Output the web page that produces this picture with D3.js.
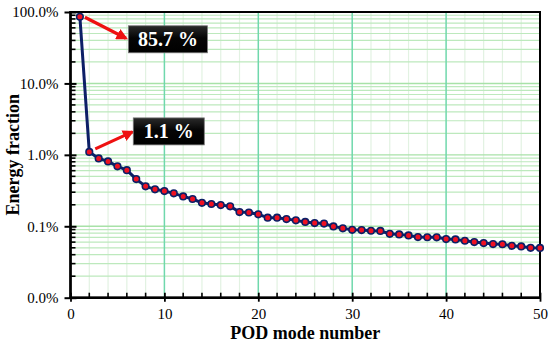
<!DOCTYPE html>
<html><head><meta charset="utf-8">
<script src="https://cdn.jsdelivr.net/npm/d3@7"></script>
<style>body{margin:0;background:#fff}svg{display:block}</style>
</head><body>
<svg id="c" width="550" height="346" font-family="Liberation Serif"></svg>
<script>
const modes = d3.range(1, 51);
const energyPct = [85.7, 1.10, 0.89, 0.81, 0.69, 0.61, 0.458, 0.362, 0.329, 0.311,
  0.289, 0.262, 0.241, 0.213, 0.205, 0.198, 0.190, 0.158, 0.156, 0.147,
  0.132, 0.132, 0.126, 0.121, 0.115, 0.111, 0.109, 0.0996, 0.0935, 0.0893,
  0.0885, 0.0866, 0.0860, 0.0785, 0.0770, 0.0745, 0.0706, 0.0702, 0.0700, 0.0662,
  0.0655, 0.0627, 0.0601, 0.0582, 0.0563, 0.0560, 0.0533, 0.0522, 0.0500, 0.0498];
const xTicks = [0, 10, 20, 30, 40, 50];
const yTicks = [0.01, 0.1, 1, 10, 100];
const yTickLabels = ["0.0%", "0.1%", "1.0%", "10.0%", "100.0%"];
const annotations = [{mode: 1, text: "85.7 %"}, {mode: 2, text: "1.1 %"}];

const L = 70.5, R = 540, T = 12, B = 297.7;
const svg = d3.select("#c");
const x = d3.scaleLinear().domain([0, 50]).range([L, R]);
const y = d3.scaleLog().domain([0.01, 100]).range([B, T]);
const serif = "Liberation Serif";

const minorY = [];
[0.01, 0.1, 1, 10].forEach(d => { for (let k = 2; k <= 9; k++) minorY.push(d * k); });
const minorX = d3.range(2, 50, 2).filter(v => v % 10 !== 0);

const grid = svg.append("g");
grid.selectAll(".mx").data(minorX).join("line")
  .attr("x1", d => x(d)).attr("x2", d => x(d)).attr("y1", T).attr("y2", B)
  .attr("stroke", "#e2f2e2").attr("stroke-width", 1.2);
grid.selectAll(".my").data(minorY).join("line")
  .attr("x1", L).attr("x2", R).attr("y1", d => y(d)).attr("y2", d => y(d))
  .attr("stroke", "#bde9bd").attr("stroke-width", 1.2);
grid.selectAll(".My").data(yTicks).join("line")
  .attr("x1", L).attr("x2", R).attr("y1", d => y(d)).attr("y2", d => y(d))
  .attr("stroke", "#a8e2a8").attr("stroke-width", 1.4);
grid.selectAll(".Mx").data(xTicks.slice(1, -1)).join("line")
  .attr("x1", d => x(d)).attr("x2", d => x(d)).attr("y1", T).attr("y2", B)
  .attr("stroke", "#6fd8ac").attr("stroke-width", 1.5);

svg.append("rect").attr("x", L).attr("y", T).attr("width", R - L).attr("height", B - T)
  .attr("fill", "none").attr("stroke", "#000").attr("stroke-width", 2);

const xAx = svg.append("g").attr("transform", `translate(0,${B})`)
  .call(d3.axisBottom(x).tickValues(xTicks).tickSizeInner(5).tickSizeOuter(0).tickPadding(6))
  .attr("font-family", serif).attr("font-size", 15);
xAx.select(".domain").remove();
xAx.selectAll(".tick line").attr("y1", -5).attr("y2", 4).attr("stroke-width", 1.8);
xAx.selectAll("text").attr("font-family", serif).attr("fill", "#000");
svg.append("g").selectAll("line").data(minorX).join("line")
  .attr("x1", d => x(d)).attr("x2", d => x(d)).attr("y1", B).attr("y2", B - 5)
  .attr("stroke", "#000").attr("stroke-width", 1.6);

const yAx = svg.append("g").attr("transform", `translate(${L},0)`)
  .call(d3.axisLeft(y).tickValues(yTicks).tickFormat((d, i) => yTickLabels[i])
    .tickSizeInner(5).tickSizeOuter(0).tickPadding(7))
  .attr("font-family", serif).attr("font-size", 15);
yAx.select(".domain").remove();
yAx.selectAll(".tick line").attr("x1", -6).attr("x2", 6).attr("stroke-width", 2);
yAx.selectAll("text").attr("font-family", serif).attr("fill", "#000");
svg.append("g").selectAll("line").data(minorY).join("line")
  .attr("x1", L).attr("x2", L + 5).attr("y1", d => y(d)).attr("y2", d => y(d))
  .attr("stroke", "#000").attr("stroke-width", 1.6);

svg.append("line").attr("x1", L).attr("x2", L).attr("y1", T - 1).attr("y2", B + 1).attr("stroke", "#000").attr("stroke-width", 2.5);
svg.append("line").attr("x1", L - 1).attr("x2", R + 1).attr("y1", B).attr("y2", B).attr("stroke", "#000").attr("stroke-width", 2.5);

svg.append("text").attr("x", (L + R) / 2).attr("y", 339).attr("text-anchor", "middle")
  .attr("font-family", serif).attr("font-weight", "bold").attr("font-size", 18).text("POD mode number");
svg.append("text").attr("transform", `translate(19,${(T + B) / 2}) rotate(-90)`).attr("text-anchor", "middle")
  .attr("font-family", serif).attr("font-weight", "bold").attr("font-size", 18).text("Energy fraction");

const pts = modes.map((m, i) => [m, energyPct[i]]);
svg.append("path").datum(pts)
  .attr("d", d3.line().x(d => x(d[0])).y(d => y(d[1])))
  .attr("fill", "none").attr("stroke", "#0c1f66").attr("stroke-width", 3).attr("stroke-linejoin", "round");
svg.append("g").selectAll("circle").data(pts).join("circle")
  .attr("cx", d => x(d[0])).attr("cy", d => y(d[1])).attr("r", 3.3)
  .attr("fill", "#ee1122").attr("stroke", "#0c1f66").attr("stroke-width", 1.6);

const defs = svg.append("defs");
const gr = defs.append("linearGradient").attr("id", "bg").attr("x1", 0).attr("x2", 0).attr("y1", 0).attr("y2", 1);
gr.append("stop").attr("offset", 0).attr("stop-color", "#2a2a2a");
gr.append("stop").attr("offset", 0.45).attr("stop-color", "#050505");
gr.append("stop").attr("offset", 1).attr("stop-color", "#000");
defs.append("marker").attr("id", "ah").attr("viewBox", "0 0 10 10").attr("refX", 8).attr("refY", 5)
  .attr("markerWidth", 3.6).attr("markerHeight", 3.6).attr("orient", "auto")
  .attr("markerUnits", "strokeWidth")
  .append("path").attr("d", "M0,0 L10,5 L0,10 Z").attr("fill", "#ee1111");

const boxOff = [{dx: 48.5, dy: 9, w: 79, h: 27, ax0: 5, ay0: 0.5, ax1: 46, ay1: 21.5},
                {dx: 44, dy: -34, w: 71, h: 27, ax0: 6, ay0: -3, ax1: 43, ay1: -20}];
annotations.forEach((a, i) => {
  const px = x(a.mode), py = y(energyPct[a.mode - 1]), o = boxOff[i];
  svg.append("line").attr("x1", px + o.ax0).attr("y1", py + o.ay0).attr("x2", px + o.ax1).attr("y2", py + o.ay1)
    .attr("stroke", "#ee1111").attr("stroke-width", 3.2).attr("marker-end", "url(#ah)");
  const bx = px + o.dx, by = py + o.dy;
  svg.append("rect").attr("x", bx).attr("y", by).attr("width", o.w).attr("height", o.h)
    .attr("fill", "url(#bg)").attr("stroke", "#777").attr("stroke-width", 0.8);
  svg.append("text").attr("x", bx + o.w / 2).attr("y", by + o.h / 2 + 7).attr("text-anchor", "middle")
    .attr("font-family", serif).attr("font-weight", "bold").attr("font-size", 20).attr("fill", "#fff").text(a.text);
});
</script>
</body></html>
